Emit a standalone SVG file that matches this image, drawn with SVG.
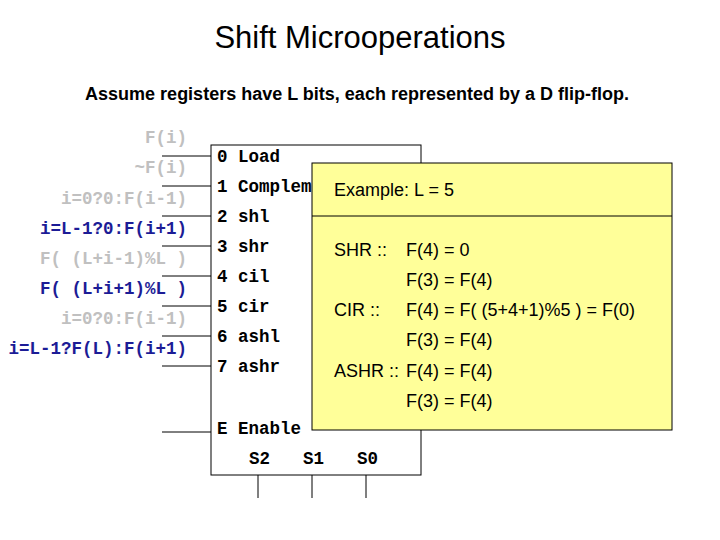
<svg xmlns="http://www.w3.org/2000/svg" width="720" height="540" viewBox="0 0 720 540">
<style>
.m{font-family:"Liberation Mono",monospace;font-weight:bold;font-size:17.5px}
.g{fill:#c0c0c0}.b{fill:#1c1c96}
.s{font-family:"Liberation Sans",Arial,sans-serif;font-size:18px;fill:#000}
</style>
<rect width="720" height="540" fill="#fff"/>
<text x="360" y="48" text-anchor="middle" style="font-family:'Liberation Sans',Arial,sans-serif;font-size:31px">Shift Microoperations</text>
<text x="357" y="100" text-anchor="middle" style="font-family:'Liberation Sans',Arial,sans-serif;font-size:18px;font-weight:bold">Assume registers have L bits, each represented by a D flip-flop.</text>
<g id="labels" class="m" text-anchor="end" xml:space="preserve">
<text x="187" y="143" class="g">F(i)</text>
<text x="187" y="173" class="g">~F(i)</text>
<text x="187" y="204" class="g">i=0?0:F(i-1)</text>
<text x="187" y="234" class="b">i=L-1?0:F(i+1)</text>
<text x="187" y="264" class="g">F( (L+i-1)%L )</text>
<text x="187" y="294" class="b">F( (L+i+1)%L )</text>
<text x="187" y="324" class="g">i=0?0:F(i-1)</text>
<text x="187" y="354" class="b">i=L-1?F(L):F(i+1)</text>
</g>
<g id="connectors">
<path d="M162 156H211M162 186H211M162 216H211M162 246H211M162 276H211M162 306H211M162 336H211M162 366H211M162 432H211M258 475V498M312 475V498M366 475V498" fill="none" stroke="#000"/>
</g>
<g id="register">
<rect x="211" y="145" width="210" height="330" fill="#fff" stroke="#000"/>
<g class="m" fill="#000">
<text x="217" y="162">0 Load</text>
<text x="217" y="192">1 Complem</text>
<text x="217" y="222">2 shl</text>
<text x="217" y="252">3 shr</text>
<text x="217" y="282">4 cil</text>
<text x="217" y="312">5 cir</text>
<text x="217" y="342">6 ashl</text>
<text x="217" y="372">7 ashr</text>
<text x="217" y="434">E Enable</text>
<text x="249" y="464">S2</text>
<text x="303" y="464">S1</text>
<text x="357" y="464">S0</text>
</g>
</g>
<g id="example">
<rect x="312" y="163" width="360" height="267" fill="#ffff99" stroke="#000"/>
<line x1="312" y1="216" x2="672" y2="216" stroke="#000"/>
<g class="s" xml:space="preserve">
<text x="334" y="196">Example:  L = 5</text>
<text x="334" y="256">SHR ::</text><text x="406" y="256">F(4) = 0</text>
<text x="406" y="286">F(3) = F(4)</text>
<text x="334" y="316">CIR ::</text><text x="406" y="316">F(4) = F( (5+4+1)%5 ) = F(0)</text>
<text x="406" y="346">F(3) = F(4)</text>
<text x="334" y="377">ASHR ::</text><text x="406" y="377">F(4) = F(4)</text>
<text x="406" y="407">F(3) = F(4)</text>
</g>
</g>
</svg>
